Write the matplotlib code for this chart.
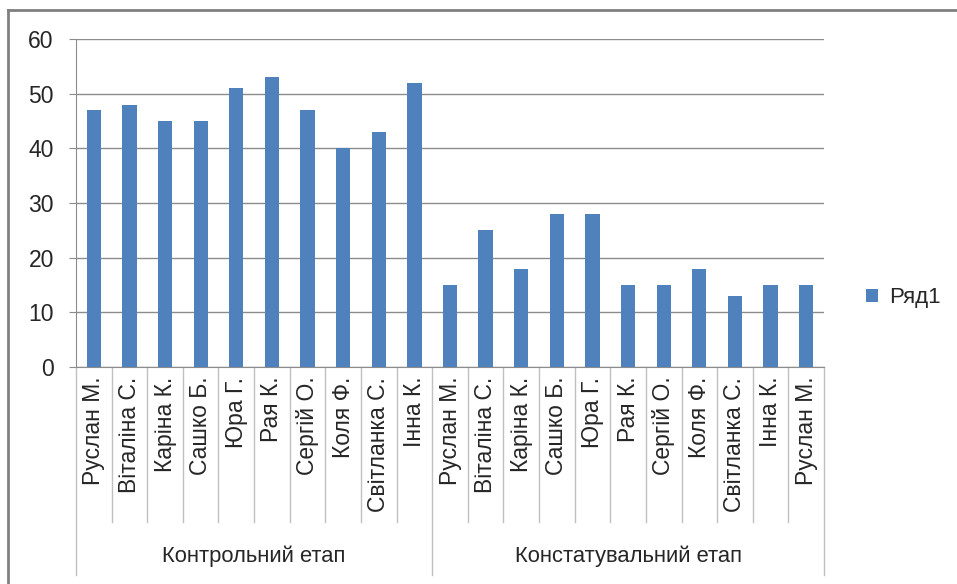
import matplotlib.pyplot as plt
import matplotlib.transforms as mtransforms
from matplotlib.lines import Line2D

plt.rcParams['font.family'] = ['Liberation Sans', 'DejaVu Sans']

names_1 = ["Руслан М.", "Віталіна С.", "Каріна К.", "Сашко Б.", "Юра Г.", "Рая К.",
           "Сергій О.", "Коля Ф.", "Світланка С.", "Інна К."]
names_2 = ["Руслан М.", "Віталіна С.", "Каріна К.", "Сашко Б.", "Юра Г.", "Рая К.",
           "Сергій О.", "Коля Ф.", "Світланка С.", "Інна К.", "Руслан М."]
values_1 = [47, 48, 45, 45, 51, 53, 47, 40, 43, 52]
values_2 = [15, 25, 18, 28, 28, 15, 15, 18, 13, 15, 15]
groups = ["Контрольний етап", "Констатувальний етап"]
series_name = "Ряд1"

labels = names_1 + names_2
values = values_1 + values_2
n = len(values)

W, H = 957, 584
fig = plt.figure(figsize=(W / 100, H / 100), dpi=100)
ax = fig.add_axes([76 / W, 1 - 367 / H, (824 - 76) / W, (367 - 39) / H])

gray = '#8c8c8c'
txt = '#262626'
ax.bar(range(n), values, width=0.4, color='#4f81bd', zorder=3, label=series_name)
ax.set_xlim(-0.5, n - 0.5)
ax.set_ylim(0, 60)
ax.set_yticks(range(0, 61, 10))
ax.yaxis.grid(True, color=gray, linewidth=1.0, zorder=0)
ax.tick_params(axis='y', length=5, color=gray, labelsize=16.5, pad=11, labelcolor=txt)
for s in ['top', 'right']:
    ax.spines[s].set_visible(False)
for s in ['left', 'bottom']:
    ax.spines[s].set_color(gray)

ax.set_xticks(range(n))
ax.set_xticklabels(labels, rotation=90, fontsize=16.5, color=txt, va='top')
ax.tick_params(axis='x', length=0, pad=7)

# category and group dividers below the axis
trans = mtransforms.blended_transform_factory(ax.transData, ax.transAxes)
cat_end = (367 - 522) / 328
grp_end = (367 - 575) / 328
bounds_grp = [-0.5, len(values_1) - 0.5, n - 0.5]
for i in range(n + 1):
    x = i - 0.5
    y_end = grp_end if x in bounds_grp else cat_end
    ax.add_line(Line2D([x, x], [0, y_end], transform=trans, color='#c0c0c0',
                       linewidth=1.0, clip_on=False))

centers = [(len(values_1) - 1) / 2, len(values_1) + (len(values_2) - 1) / 2]
for c, g in zip(centers, groups):
    ax.text(c, (367 - 556) / 328, g, transform=trans, ha='center', va='center',
            fontsize=15.8, color=txt)

# outer chart frame
fig.add_artist(Line2D([8 / W, 8 / W], [0, 1 - 10 / H], color='#808080', linewidth=2))
fig.add_artist(Line2D([8 / W, 1], [1 - 10 / H, 1 - 10 / H], color='#808080', linewidth=2))

fig.legend(loc='center left', bbox_to_anchor=(846 / W, 1 - 298 / H), frameon=False,
           fontsize=16, handlelength=0.55, handleheight=0.55, handletextpad=0.5,
           labelcolor=txt)

fig.savefig('out.png', dpi=100)
